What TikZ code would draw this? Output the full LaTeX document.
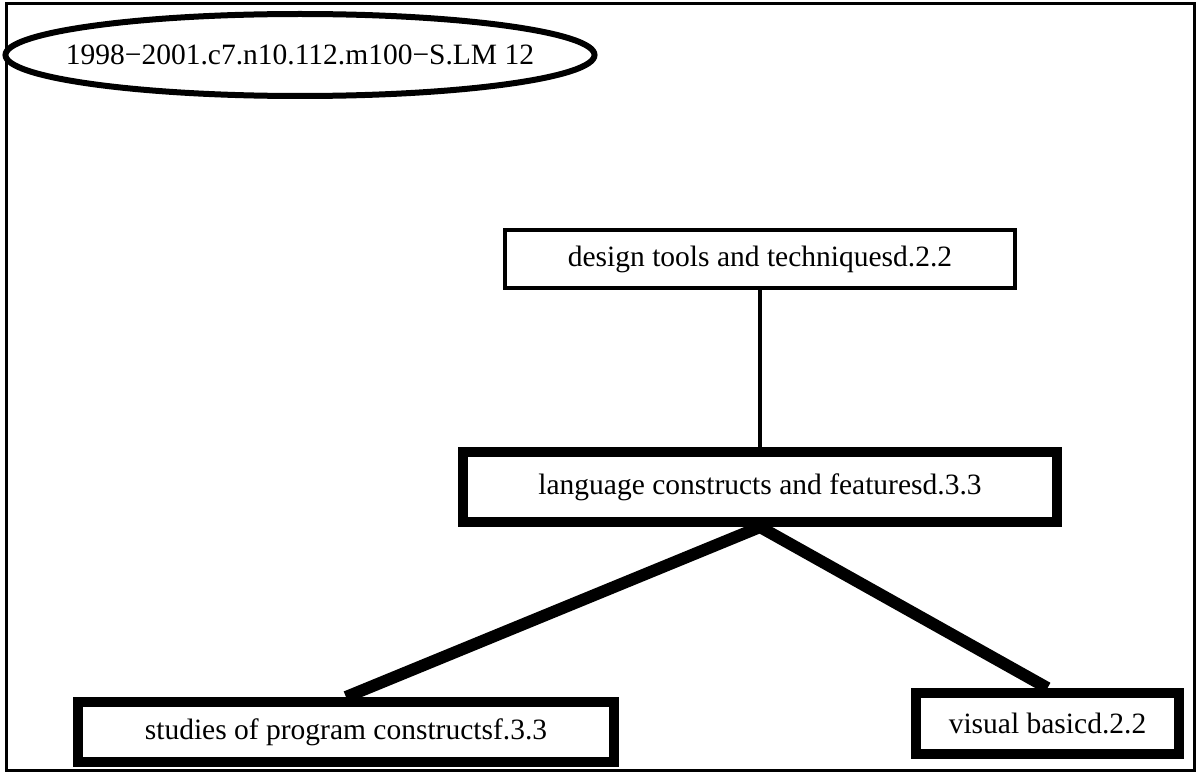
\documentclass[tikz,border=0pt]{standalone}
\usepackage{fontspec}
\setmainfont{Liberation Serif}
\usetikzlibrary{shapes.geometric,calc}
\begin{document}
\begin{tikzpicture}[x=1pt,y=-1pt,
  every node/.style={inner sep=0pt, font=\fontsize{29.5}{34}\selectfont},
  thinbox/.style={draw, line width=3.5pt, rectangle},
  thickbox/.style={draw, line width=10pt, rectangle},
  thinlink/.style={line width=4.5pt},
  thicklink/.style={line width=12pt}]
  \useasboundingbox (0,0) rectangle (1198,773);
  % outer frame
  \draw[line width=3pt] (6,4) rectangle (1194,770);

  % title ellipse
  \node[draw, ellipse, line width=6pt, minimum width=589pt, minimum height=82pt]
    (title) at (300,55) {};
  \node (titletext) at (title.center) {1998−2001.c7.n10.112.m100−S.LM 12};

  % boxes
  \node[thinbox, minimum width=510pt, minimum height=58pt]
    (design) at (760,259) {design tools and techniquesd.2.2};
  \node[thickbox, minimum width=594pt, minimum height=70pt]
    (lang) at (760,487) {language constructs and featuresd.3.3};
  \node[thickbox, minimum width=536pt, minimum height=60pt]
    (studies) at (346,732) {studies of program constructsf.3.3};
  \node[thickbox, minimum width=263pt, minimum height=61pt]
    (visual) at (1047.5,723.5) {visual basicd.2.2};

  % connectors
  \draw[thinlink] (design.south) -- (lang.north);
  \draw[thicklink] (lang.south) -- (studies.north);
  \draw[thicklink] (lang.south) -- (visual.north);
\end{tikzpicture}
\end{document}
